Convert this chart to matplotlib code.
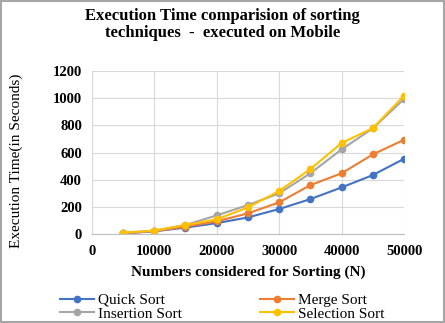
import matplotlib
matplotlib.use("Agg")
import matplotlib.pyplot as plt
from matplotlib.patches import Rectangle

n_values = [5000, 10000, 15000, 20000, 25000, 30000, 35000, 40000, 45000, 50000]
quick_sort = [5, 20, 47, 80, 122, 184, 257, 343, 434, 554]
merge_sort = [5, 20, 54, 93, 152, 233, 360, 447, 586, 694]
insertion_sort = [8, 25, 66, 137, 213, 299, 447, 623, 778, 994]
selection_sort = [10, 25, 66, 108, 196, 316, 478, 670, 780, 1018]

series = [
    ("Quick Sort", quick_sort, "#4472C4"),
    ("Merge Sort", merge_sort, "#ED7D31"),
    ("Insertion Sort", insertion_sort, "#A5A5A5"),
    ("Selection Sort", selection_sort, "#FFC000"),
]

plt.rcParams['font.family'] = ['Liberation Serif', 'DejaVu Serif']

fig = plt.figure(figsize=(4.45, 3.23), dpi=100)
ax = fig.add_axes([0.206, 0.2755, 0.702, 0.5045])

lines = {}
for name, vals, col in series:
    lines[name], = ax.plot(n_values, vals, color=col, marker='o', markersize=4.5,
                           linewidth=1.5, label=name)

ax.set_xlim(0, 50000)
ax.set_ylim(0, 1200)
ax.set_xticks(range(0, 50001, 10000))
ax.set_yticks(range(0, 1201, 200))
ax.grid(True, color='#D9D9D9', linewidth=0.8)
ax.set_axisbelow(True)
for s in ['top', 'right']:
    ax.spines[s].set_visible(False)
ax.spines['left'].set_color('#D9D9D9')
ax.spines['bottom'].set_color('#BFBFBF')
ax.tick_params(length=0, labelsize=10.5, pad=7)
ax.tick_params(axis='x', pad=8)
for lbl in ax.get_xticklabels() + ax.get_yticklabels():
    lbl.set_fontweight('bold')

ax.set_xlabel("Numbers considered for Sorting (N)", fontsize=11, fontweight='bold', labelpad=5)
ax.set_ylabel("Execution Time(in Seconds)", fontsize=11)
ax.yaxis.set_label_coords(-0.22, 0.45)

fig.text(0.5, 0.975, "Execution Time comparision of sorting\ntechniques  -  executed on Mobile",
         ha='center', va='top', fontsize=12, fontweight='bold', linespacing=1.1)

# Excel-style row-wise order: Quick, Merge / Insertion, Selection
order = ["Quick Sort", "Insertion Sort", "Merge Sort", "Selection Sort"]
fig.legend([lines[k] for k in order], order, loc='lower center',
           bbox_to_anchor=(0.5, -0.035), ncol=2, frameon=False,
           fontsize=11, columnspacing=5.1, handlelength=2.2, handletextpad=0.3,
           labelspacing=0.0)

fig.patches.append(Rectangle((0.003, 0.003), 0.994, 0.994, transform=fig.transFigure,
                             fill=False, edgecolor='#A6A6A6', linewidth=1.5))

fig.savefig("out.png", dpi=100)
